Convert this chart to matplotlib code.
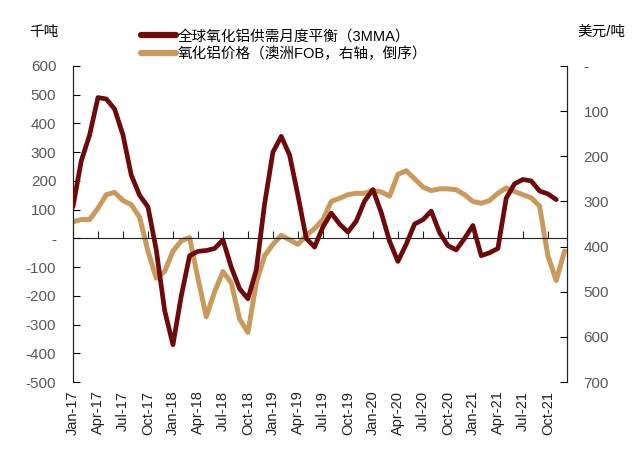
import matplotlib
matplotlib.use("Agg")
import matplotlib.pyplot as plt
import numpy as np

plt.rcParams['font.family'] = ['Liberation Sans', 'Noto Sans CJK SC', 'DejaVu Sans']

# monthly, Jan-17 .. Dec-21
years = ['17', '18', '19', '20', '21']

# 全球氧化铝供需月度平衡 (3MMA), kt, Jan-17 .. Nov-21
balance = [110, 270, 360, 490, 485, 450, 360, 220, 150, 110, -40, -250,
           -370, -200, -60, -45, -42, -35, -5, -100, -175, -210, -110, 120,
           300, 355, 290, 150, 0, -30, 40, 88, 50, 22, 60, 130,
           170, 90, -10, -80, -20, 50, 65, 95, 20, -25, -40, 0,
           45, -60, -50, -35, 140, 190, 205, 200, 165, 155, 135]

# 氧化铝价格 (澳洲FOB), USD/t, Jan-17 .. Dec-21
price = [345, 340, 340, 315, 285, 280, 298, 307, 335, 410, 470, 455,
         410, 387, 380, 470, 555, 500, 455, 480, 560, 590, 480, 420,
         395, 375, 385, 395, 375, 360, 340, 300, 293, 285, 282, 282,
         276, 279, 288, 240, 232, 250, 268, 276, 272, 272, 274, 285,
         300, 304, 298, 282, 270, 278, 285, 292, 310, 420, 475, 410]

tick_labels = [m + '-' + y for y in years for m in ['Jan', 'Apr', 'Jul', 'Oct']]

fig = plt.figure(figsize=(6.4, 4.61), dpi=100)
ax = fig.add_axes([0.114, 0.171, 0.772, 0.686])
ax2 = ax.twinx()

dark = '#6E0A0A'
gold = '#C99A5B'

x1 = np.arange(len(balance))
x2 = np.arange(len(price))
l1, = ax.plot(x1, balance, color=dark, lw=3.4, solid_joinstyle='round', solid_capstyle='round', zorder=3)
l2, = ax2.plot(x2, price, color=gold, lw=3.6, solid_joinstyle='round', solid_capstyle='round', zorder=2)
ax.set_zorder(ax2.get_zorder() + 1)
ax.patch.set_visible(False)

ax.set_xlim(0, 59.3)
ax.set_ylim(-500, 600)
ax2.set_ylim(700, 0)

lt = np.arange(-500, 601, 100)
ax.set_yticks(lt)
ax.set_yticklabels(['-' if v == 0 else str(v) for v in lt])
rt = np.arange(0, 701, 100)
ax2.set_yticks(rt)
ax2.set_yticklabels(['-' if v == 0 else str(v) for v in rt])

ax.set_xticks(np.arange(0, 60, 3))
ax.set_xticklabels(tick_labels, rotation=90, fontsize=10.5, color='#222222')
ax.tick_params(axis='x', length=0, pad=6)
ax.tick_params(axis='y', direction='in', length=5, labelsize=11, labelcolor='#595959', pad=12)
ax2.tick_params(axis='y', direction='in', length=5, labelsize=11, labelcolor='#595959', pad=12)

for a in (ax, ax2):
    a.spines['top'].set_visible(False)
    a.spines['bottom'].set_visible(False)
    a.spines['left'].set_color('#222222')
    a.spines['right'].set_color('#222222')

# zero line with ticks pointing up
zx = ax.secondary_xaxis(500 / 1100)
zx.set_xticks(np.arange(0, 60, 3))
zx.set_xticklabels([])
zx.tick_params(direction='in', length=5, color='#222222')
zx.spines['bottom'].set_color('#222222')
zx.spines['top'].set_color('#222222')

fig.text(0.068, 0.93, '千吨', fontsize=10.5, ha='center', va='center')
fig.text(0.94, 0.93, '美元/吨', fontsize=10.5, ha='center', va='center')

leg = fig.legend([l1, l2], ['全球氧化铝供需月度平衡（3MMA）', '氧化铝价格（澳洲FOB，右轴，倒序）'],
                 loc='upper left', bbox_to_anchor=(0.2, 0.965), frameon=False,
                 fontsize=10.5, handlelength=2.4, handletextpad=0.1, labelspacing=0.2)
for h in leg.legend_handles:
    h.set_linewidth(4.5)

fig.savefig('out.png', dpi=100)
